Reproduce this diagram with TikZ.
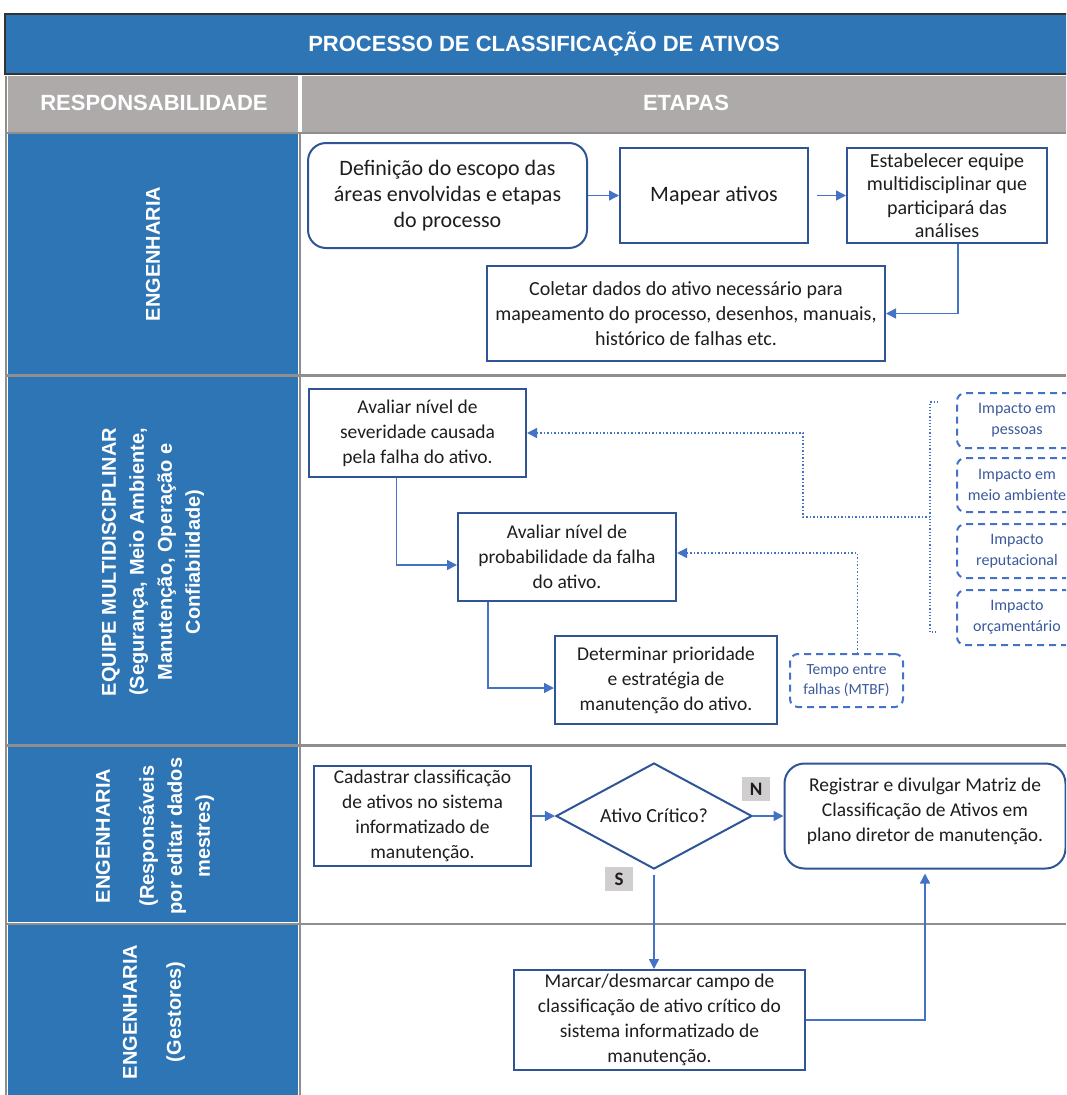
\documentclass[tikz,border=0pt]{standalone}
\usepackage{fontspec}
\setmainfont{Carlito}
\newfontfamily\headfont{Liberation Sans}
\usetikzlibrary{shapes.geometric, arrows.meta}

\definecolor{laneblue}{HTML}{2E75B6}
\definecolor{headgray}{HTML}{AEAAAA}
\definecolor{rulegray}{HTML}{8E8E8E}
\definecolor{boxblue}{HTML}{2F5597}
\definecolor{linkblue}{HTML}{4472C4}
\definecolor{impactblue}{HTML}{3A5A9C}
\definecolor{flaggray}{HTML}{D0CECE}
\definecolor{textgray}{HTML}{1E1E1E}

\tikzset{
  stepbox/.style={draw=boxblue, line width=2pt, fill=white, align=center, inner sep=2pt,
    text=textgray, font=\fontsize{19.5}{25}\selectfont},
  roundbox/.style={stepbox, rounded corners=18pt},
  impactbox/.style={draw=linkblue, dash pattern=on 7pt off 5pt, line width=2pt, rounded corners=8pt,
    align=center, inner sep=0pt, text=impactblue, font=\fontsize{16}{21}\selectfont},
  flow/.style={draw=linkblue, line width=1.5pt, -{Triangle[length=10pt, width=10pt]}},
  dotlink/.style={draw=linkblue, line width=1.5pt, dotted, -{Triangle[length=10pt, width=10pt]}},
  lanelabel/.style={rotate=90, text=white, align=center, font=\headfont\bfseries\fontsize{20}{28}\selectfont},
  headlabel/.style={text=white, font=\headfont\bfseries\fontsize{22}{26}\selectfont},
  yesno/.style={fill=flaggray, text=textgray, font=\bfseries\fontsize{19}{20}\selectfont,
    minimum width=28pt, minimum height=24pt, inner sep=0pt}
}

\begin{document}
\begin{tikzpicture}[x=1pt, y=-1pt]
	\useasboundingbox (0,0) rectangle (1066,1095);
	\clip (0,0) rectangle (1066,1095);

	% title and header rows
	\fill[laneblue, draw=black!80, line width=1.5pt] (5,14) rectangle (1070,74);
	\fill[headgray] (8,76) rectangle (298,132);
	\fill[headgray] (302,76) rectangle (1070,132);
	\node[headlabel] (title) at (544,44) {PROCESSO DE CLASSIFICAÇÃO DE ATIVOS};
	\node[headlabel] (headresp) at (154,103) {RESPONSABILIDADE};
	\node[headlabel] (headetapas) at (686,103) {ETAPAS};

	% swimlanes
	\fill[laneblue] (8,134) rectangle (298,374);
	\fill[laneblue] (8,377) rectangle (298,744);
	\fill[laneblue] (8,747) rectangle (298,922);
	\fill[laneblue] (8,925) rectangle (298,1095);
	\draw[rulegray, line width=1.5pt] (6,76) -- (6,1095);
	\draw[rulegray, line width=1.5pt] (300,133) -- (300,1095);
	\draw[rulegray, line width=1.5pt] (6,133) -- (1066,133);
	\draw[rulegray, line width=3pt] (6,375.5) -- (1066,375.5);
	\draw[rulegray, line width=3pt] (6,745.5) -- (1066,745.5);
	\draw[rulegray, line width=2pt] (6,923.5) -- (1066,923.5);

	\node[lanelabel] (laneeng) at (153,254) {ENGENHARIA};
	\node[lanelabel] (laneequipe) at (153,562) {EQUIPE MULTIDISCIPLINAR\\(Segurança, Meio Ambiente,\\Manutenção, Operação e\\Confiabilidade)};
	\node[lanelabel] (lanecad) at (155,836) {ENGENHARIA\\[16pt](Responsáveis\\por editar dados\\mestres)};
	\node[lanelabel] (lanegest) at (154,1012) {ENGENHARIA\\[16pt](Gestores)};

	% lane 1
	\node[roundbox, minimum width=279pt, minimum height=105pt, font=\fontsize{22}{26}\selectfont] (escopo) at (447.5,195.5) {Definição do escopo das\\áreas envolvidas  e etapas\\do processo};
	\node[stepbox, minimum width=188pt, minimum height=95pt, font=\fontsize{22}{26}\selectfont] (mapear) at (714,195.5) {Mapear ativos};
	\node[stepbox, minimum width=200pt, minimum height=95pt, font=\fontsize{20}{23.5}\selectfont] (equipe) at (947,195.5) {Estabelecer equipe\\multidisciplinar que\\participará das\\análises};
	\node[stepbox, minimum width=398pt, minimum height=95pt, font=\fontsize{20}{25}\selectfont] (coletar) at (686,313.5) {Coletar dados do ativo necessário para\\mapeamento do processo, desenhos, manuais,\\histórico de falhas etc.};

	\draw[flow] (escopo) -- (mapear);
	\draw[flow, shorten <=8pt] (mapear) -- (equipe);
	\draw[flow] ([xshift=11pt]equipe.south) |- (coletar.east);

	% lane 2
	\node[stepbox, minimum width=217pt, minimum height=88pt] (severidade) at (417.5,433) {Avaliar nível de\\severidade causada\\pela falha do ativo.};
	\node[stepbox, minimum width=218pt, minimum height=88pt] (probab) at (567,557) {Avaliar nível de\\probabilidade da falha\\do ativo.};
	\node[stepbox, minimum width=222pt, minimum height=88pt] (prioridade) at (666,680) {Determinar prioridade\\e estratégia de\\manutenção do ativo.};
	\node[impactbox, minimum width=113pt, minimum height=53pt, font=\fontsize{15.5}{20}\selectfont] (mtbf) at (846.5,680.5) {Tempo entre\\falhas (MTBF)};

	\node[impactbox, minimum width=120pt, minimum height=55pt] (imppessoas) at (1017,420.5) {Impacto em\\pessoas};
	\node[impactbox, minimum width=120pt, minimum height=54pt] (impambiente) at (1017,485) {Impacto em\\meio ambiente};
	\node[impactbox, minimum width=120pt, minimum height=54pt] (impreput) at (1017,551) {Impacto\\reputacional};
	\node[impactbox, minimum width=120pt, minimum height=55pt] (imporcam) at (1017,617.5) {Impacto\\orçamentário};

	% bracket of the impacts
	\coordinate (brtop) at (938,402);
	\coordinate (brbot) at (938,632);
	\coordinate (brmid) at (930,517);
	\coordinate (sevturn) at (803,433);
	\draw[linkblue, line width=1.2pt, dotted] (brtop) -- ++(-8,0) |- (brbot);
	\draw[dotlink] (brmid) -| (sevturn) -- (severidade.east);
	\draw[dotlink] ([xshift=11pt]mtbf.north) |- ([yshift=4pt]probab.east);

	\draw[flow] ([xshift=-21pt]severidade.south) |- ([yshift=-8pt]probab.west);
	\draw[flow] ([xshift=-79pt]probab.south) |- ([yshift=-8pt]prioridade.west);

	% lane 3 and 4
	\node[stepbox, minimum width=217pt, minimum height=100pt] (cadastrar) at (422.5,816) {Cadastrar classificação\\de ativos no sistema\\informatizado de\\manutenção.};
	\node[stepbox, diamond, aspect=1.85, minimum width=196pt, minimum height=106pt, inner sep=0pt, font=\fontsize{20}{24}\selectfont] (critico) at (654,816) {Ativo Crítico?};
	\node[roundbox, rounded corners=20pt, minimum width=281pt, minimum height=105pt, text depth=12pt] (registrar) at (925,816) {Registrar e divulgar Matriz de\\Classificação de Ativos em\\plano diretor de manutenção.};
	\node[stepbox, minimum width=291pt, minimum height=100pt] (marcar) at (659.5,1020) {Marcar/desmarcar campo de\\classificação de ativo crítico do\\sistema informatizado de\\manutenção.};

	\node[yesno] (labeln) at (756,789) {N};
	\node[yesno] (labels) at (619,879) {S};

	\draw[flow] (cadastrar) -- (critico);
	\draw[flow] (critico) -- (registrar);
	\draw[flow, shorten <=5pt] (critico.south) -- (critico.south |- marcar.north);
	\draw[flow, shorten >=4pt] (marcar.east) -| (registrar.south);

\end{tikzpicture}
\end{document}
